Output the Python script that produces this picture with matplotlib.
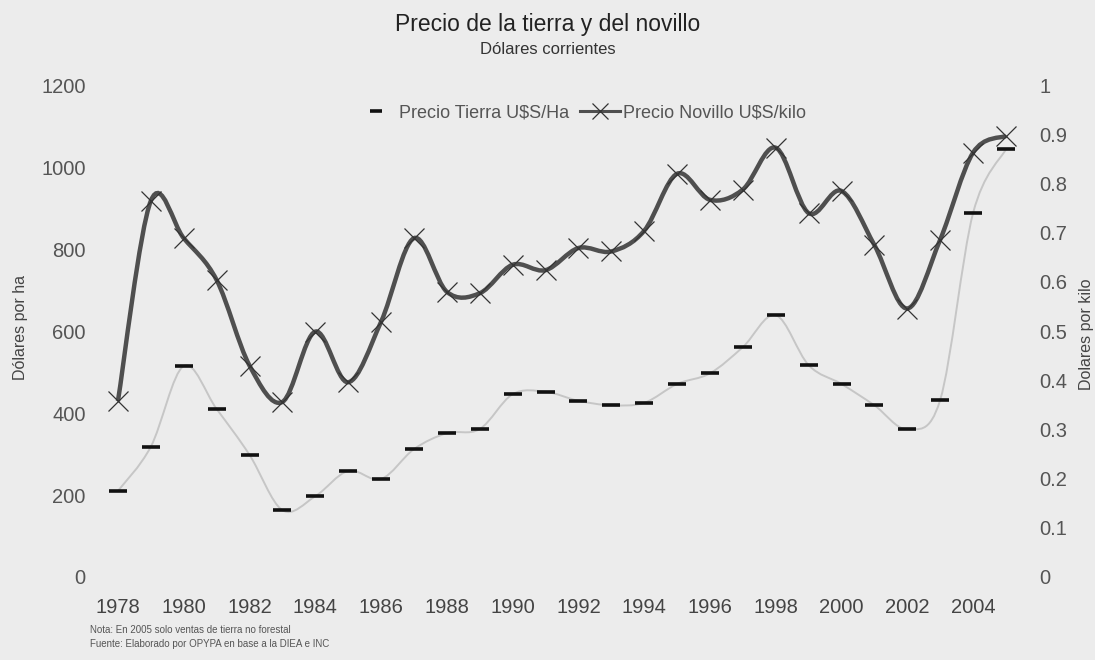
import matplotlib
matplotlib.use("Agg")
import matplotlib.pyplot as plt
from matplotlib.path import Path
from matplotlib.patches import PathPatch
from matplotlib.lines import Line2D

plt.rcParams['font.family'] = ['Liberation Sans', 'DejaVu Sans']

# Data
years = list(range(1978, 2006))
tierra = [210, 318, 515, 410, 298, 163, 197, 259, 239, 312,
          351, 361, 446, 452, 430, 419, 425, 471, 497, 561,
          639, 517, 471, 419, 361, 432, 888, 1044]
novillo = [0.358, 0.765, 0.689, 0.604, 0.430, 0.356, 0.499, 0.396, 0.519, 0.689,
           0.580, 0.577, 0.635, 0.624, 0.669, 0.662, 0.704, 0.820, 0.767, 0.788,
           0.873, 0.740, 0.785, 0.675, 0.546, 0.686, 0.863, 0.897]

left_ticks = [0, 200, 400, 600, 800, 1000, 1200]
right_ticks = [0, 0.1, 0.2, 0.3, 0.4, 0.5, 0.6, 0.7, 0.8, 0.9, 1.0]
right_labels = ['0', '0.1', '0.2', '0.3', '0.4', '0.5', '0.6', '0.7', '0.8', '0.9', '1']
x_ticks = list(range(1978, 2005, 2))

BG = '#ececec'
TXT = '#555555'


def smooth_path(x, y):
    # Excel-like smoothed line: cubic Bezier segments through every point
    n = len(x)
    verts = [(x[0], y[0])]
    codes = [Path.MOVETO]
    for i in range(n - 1):
        i0 = max(i - 1, 0)
        i3 = min(i + 2, n - 1)
        c1 = (x[i] + (x[i + 1] - x[i0]) / 6, y[i] + (y[i + 1] - y[i0]) / 6)
        c2 = (x[i + 1] - (x[i3] - x[i]) / 6, y[i + 1] - (y[i3] - y[i]) / 6)
        verts += [c1, c2, (x[i + 1], y[i + 1])]
        codes += [Path.CURVE4] * 3
    return Path(verts, codes)


fig = plt.figure(figsize=(10.95, 6.6), dpi=100, facecolor=BG)
ax = fig.add_axes([0.0927, 0.1258, 0.841, 0.745])
ax.set_facecolor(BG)
ax2 = ax.twinx()

# Land price (left axis)
ax.add_patch(PathPatch(smooth_path(years, tierra), fill=False,
                       edgecolor='#c6c6c6', lw=1.4, zorder=2))
ax.plot(years, tierra, linestyle='none', marker='_', markersize=13,
        mew=2.6, color='#111111', zorder=3)

# Steer price (right axis)
ax2.add_patch(PathPatch(smooth_path(years, novillo), fill=False,
                        edgecolor='#4f4f4f', lw=3.2, zorder=2))
ax2.plot(years, novillo, linestyle='none', marker='x', markersize=14,
         mew=0.9, color='#333333', zorder=3)

ax.set_xlim(1977.5, 2005.5)
ax.set_ylim(0, 1200)
ax2.set_ylim(0, 1.0)

ax.set_xticks(x_ticks)
ax.set_xticklabels([str(t) for t in x_ticks])
ax.set_yticks(left_ticks)
ax.set_yticklabels([str(t) for t in left_ticks])
ax2.set_yticks(right_ticks)
ax2.set_yticklabels(right_labels)

for a in (ax, ax2):
    for s in a.spines.values():
        s.set_visible(False)
ax.tick_params(axis='x', length=0, pad=15, labelsize=14.5, labelcolor='#444444')
ax.tick_params(axis='y', length=0, pad=11.5, labelsize=14.5, labelcolor=TXT)
ax2.tick_params(axis='y', length=0, pad=12, labelsize=14.5, labelcolor=TXT)

fig.text(21 / 1095, 1 - 328 / 660, 'Dólares por ha', rotation=90,
         ha='center', va='center', fontsize=11.5, color='#444444')
fig.text(1086 / 1095, 1 - 334 / 660, 'Dolares por kilo', rotation=90,
         ha='center', va='center', fontsize=11.5, color='#444444')

fig.text(0.5, 1 - 25 / 660, 'Precio de la tierra y del novillo',
         ha='center', va='center', fontsize=16.5, color='#222222')
fig.text(0.5, 1 - 49 / 660, 'Dólares corrientes',
         ha='center', va='center', fontsize=12, color='#333333')

handles = [
    Line2D([], [], linestyle='none', marker='_', markersize=9, mew=2.6,
           color='#111111'),
    Line2D([], [], color='#4f4f4f', lw=2.2, marker='x', markersize=11,
           mew=0.9, markeredgecolor='#333333'),
]
fig.legend(handles, ['Precio Tierra U\\$S/Ha', 'Precio Novillo U\\$S/kilo'],
           loc='center', bbox_to_anchor=(581 / 1095, 1 - 113 / 660), ncol=2,
           frameon=False, fontsize=13, labelcolor='#555555',
           handlelength=2.2, columnspacing=0.6, handletextpad=0.2)

fig.text(90 / 1095, 1 - 630 / 660, 'Nota: En 2005 solo ventas de tierra no forestal',
         ha='left', va='center', fontsize=7, color='#555555')
fig.text(90 / 1095, 1 - 644 / 660, 'Fuente: Elaborado por OPYPA en base a la DIEA e INC',
         ha='left', va='center', fontsize=7, color='#555555')

fig.savefig('out.png', dpi=100, facecolor=BG)
